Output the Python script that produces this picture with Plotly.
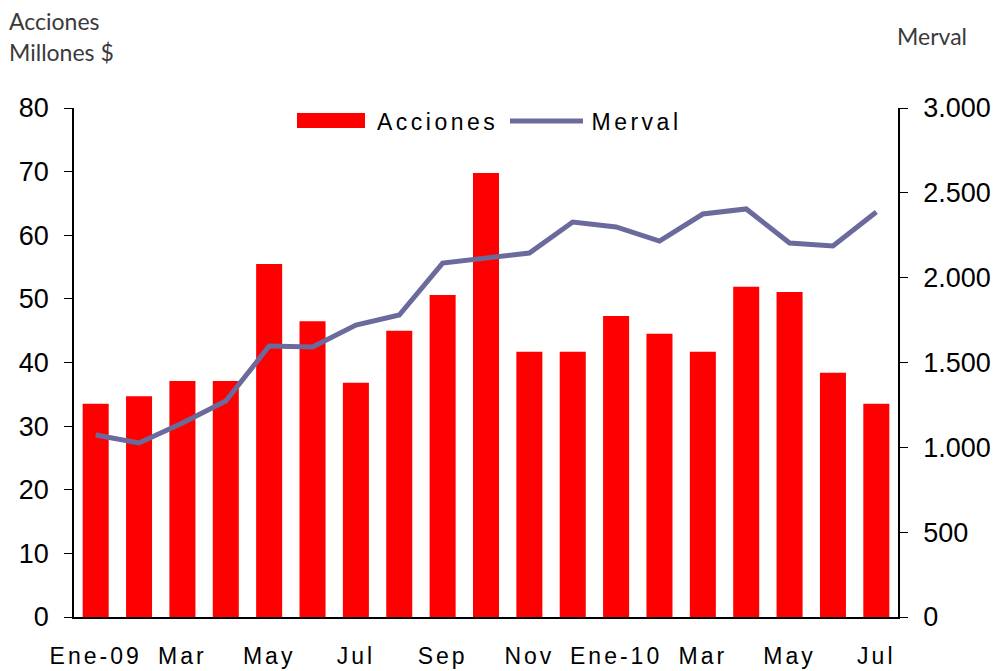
import plotly.graph_objects as go

# ---------------- data ----------------
meses = ["Ene-09", "Feb-09", "Mar-09", "Abr-09", "May-09", "Jun-09", "Jul-09",
         "Ago-09", "Sep-09", "Oct-09", "Nov-09", "Dic-09", "Ene-10", "Feb-10",
         "Mar-10", "Abr-10", "May-10", "Jun-10", "Jul-10"]
acciones = [33.5, 34.7, 37.1, 37.1, 55.5, 46.5, 36.8, 45.0, 50.6, 69.8,
            41.7, 41.7, 47.3, 44.5, 41.7, 51.9, 51.1, 38.4, 33.5]
merval = [1073, 1026, 1143, 1273, 1597, 1591, 1721, 1780, 2086, 2116,
          2145, 2328, 2299, 2216, 2375, 2405, 2204, 2187, 2387]
x_tick_labels = ["Ene-09", "Mar", "May", "Jul", "Sep", "Nov", "Ene-10", "Mar", "May", "Jul"]
y_left_ticks = [0, 10, 20, 30, 40, 50, 60, 70, 80]
y_right_ticks = [0, 500, 1000, 1500, 2000, 2500, 3000]

idx = list(range(len(meses)))
label_pos = idx[::2]
boundary_ticks = [i - 0.5 for i in idx[::3]]

W, H = 994, 671
L, R, T, B = 74, 96, 108, 54
PW, PH = W - L - R, H - T - B


def px_x(p):
    return (p - L) / PW


def px_y(p):
    return (H - B - p) / PH


RED = "#FF0000"
LINE = "#6A6A9C"
TICKFONT = "Liberation Sans, Arial, sans-serif"
NARROW = "Liberation Sans Narrow, Arial Narrow, Liberation Sans, sans-serif"
TITLEFONT = dict(family="Lato, sans-serif", size=23, color="#3a3a3a")

fig = go.Figure()
fig.add_trace(go.Bar(x=idx, y=acciones, name="Acciones", marker=dict(color=RED, line=dict(width=0)),
                     width=0.6, xaxis="x", yaxis="y", showlegend=False, hoverinfo="skip"))
fig.add_trace(go.Scatter(x=idx, y=merval, name="Merval", mode="lines",
                         line=dict(color=LINE, width=5), xaxis="x", yaxis="y2", showlegend=False,
                         hoverinfo="skip"))

xr = [-0.5, len(meses) - 0.5]
common_ax = dict(showgrid=False, zeroline=False, automargin=False)

fig.update_layout(
    width=W, height=H, autosize=False,
    margin=dict(l=L, r=R, t=T, b=B, pad=0, autoexpand=False),
    paper_bgcolor="white", plot_bgcolor="white",
    separators=",.",
    showlegend=False,
    xaxis=dict(range=xr, tickmode="array", tickvals=label_pos, ticktext=x_tick_labels,
               ticks="outside", ticklen=8, tickcolor="rgba(0,0,0,0)",
               ticklabelstandoff=10,
               tickfont=dict(family=NARROW, size=23, color="black"),
               showline=True, linecolor="black", linewidth=1.5, **common_ax),
    xaxis2=dict(range=xr, overlaying="x", anchor="y", side="bottom", tickmode="array",
                tickvals=boundary_ticks, ticks="outside", ticklen=8, tickwidth=1, tickcolor="black",
                showticklabels=False, showline=False, **common_ax),
    xaxis3=dict(range=xr, overlaying="x", anchor="y", side="bottom", tickmode="array",
                tickvals=boundary_ticks, ticks="inside", ticklen=8, tickwidth=1, tickcolor="black",
                showticklabels=False, showline=False, **common_ax),
    yaxis=dict(range=[0, 80], tickmode="array", tickvals=y_left_ticks,
               ticks="outside", ticklen=8, tickwidth=1, tickcolor="black",
               ticklabelstandoff=10,
               tickfont=dict(family=TICKFONT, size=27, color="black"),
               showline=True, linecolor="black", linewidth=1.5, **common_ax),
    yaxis3=dict(range=[0, 80], overlaying="y", side="left", tickmode="array", tickvals=y_left_ticks,
                ticks="inside", ticklen=8, tickwidth=1, tickcolor="black",
                showticklabels=False, showline=False, **common_ax),
    yaxis2=dict(range=[0, 3000], overlaying="y", side="right", tickmode="array", tickvals=y_right_ticks,
                tickformat=",d",
                ticks="outside", ticklen=8, tickwidth=1, tickcolor="black",
                ticklabelstandoff=10,
                tickfont=dict(family=TICKFONT, size=27, color="black"),
                showline=True, linecolor="black", linewidth=1.5, **common_ax),
    yaxis4=dict(range=[0, 3000], overlaying="y", side="right", tickmode="array", tickvals=y_right_ticks,
                ticks="inside", ticklen=8, tickwidth=1, tickcolor="black",
                showticklabels=False, showline=False, **common_ax),
)

# axis titles
fig.add_annotation(text="Acciones", xref="paper", yref="paper",
                   x=px_x(8), y=px_y(21), xanchor="left", yanchor="middle", align="left",
                   showarrow=False, borderpad=0, font=TITLEFONT)
fig.add_annotation(text="Millones $", xref="paper", yref="paper",
                   x=px_x(8), y=px_y(52), xanchor="left", yanchor="middle", align="left",
                   showarrow=False, borderpad=0, font=TITLEFONT)
fig.add_annotation(text="Merval", xref="paper", yref="paper",
                   x=px_x(896), y=px_y(36), xanchor="left", yanchor="middle",
                   showarrow=False, borderpad=0, font=TITLEFONT)

# legend (drawn)
fig.add_shape(type="rect", xref="paper", yref="paper", x0=px_x(297), x1=px_x(365),
              y0=px_y(128), y1=px_y(113), fillcolor=RED, line=dict(width=0))
fig.add_annotation(text="Acciones", xref="paper", yref="paper", x=px_x(437), y=px_y(122),
                   xanchor="center", yanchor="middle", showarrow=False,
                   font=dict(family=TICKFONT, size=23, color="black"))
fig.add_shape(type="line", xref="paper", yref="paper", x0=px_x(510), x1=px_x(583),
              y0=px_y(121), y1=px_y(121), line=dict(color=LINE, width=5))
fig.add_annotation(text="Merval", xref="paper", yref="paper", x=px_x(636), y=px_y(122),
                   xanchor="center", yanchor="middle", showarrow=False,
                   font=dict(family=TICKFONT, size=23, color="black"))

post = """
var st = document.createElement('style');
st.textContent = 'html,body{margin:0;padding:0;overflow:hidden;} .xtick text{letter-spacing:3px;} text.annotation-text[style*="Liberation Sans"]{letter-spacing:3.5px;}';
document.head.appendChild(st);
"""
fig.write_html("out.html", post_script=post, config={"displayModeBar": False})
